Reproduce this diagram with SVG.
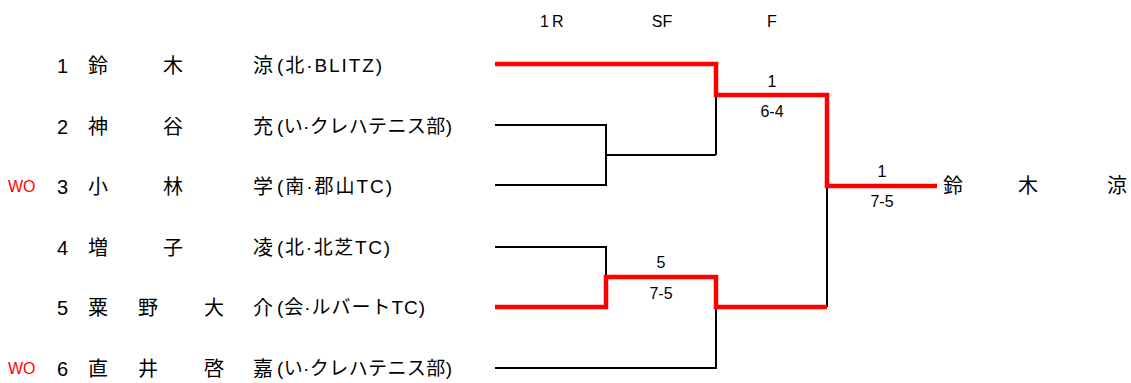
<svg xmlns="http://www.w3.org/2000/svg" width="1131" height="383" viewBox="0 0 1131 383">
<style>
text{font-family:"Liberation Sans","Noto Sans CJK JP",sans-serif;fill:#000}
.nm{font-size:20px}
.num{font-size:20px}
.aff{font-size:19px}
.hd{font-size:16px}
.sc{font-size:16px;text-anchor:middle}
.wo{font-size:16px;fill:#ff0000}
.bk{fill:none;stroke:#000;stroke-width:2}
.rd{fill:none;stroke:#ff0000;stroke-width:4.5}
</style>
<rect width="1131" height="383" fill="#fff"/>
<g id="headers">
<text class="hd" x="540" y="27" letter-spacing="3">1R</text>
<text class="hd" x="662" y="27" text-anchor="middle">SF</text>
<text class="hd" x="772" y="27" text-anchor="middle">F</text>
</g>
<g id="p1">
<text class="num" x="57" y="73">1</text>
<text class="nm" x="88" y="73">鈴</text><text class="nm" x="163" y="73">木</text><text class="nm" x="253" y="73">涼</text>
<text class="aff" x="277" y="72" textLength="105" lengthAdjust="spacing">(北·BLITZ)</text>
</g>
<g id="p2">
<text class="num" x="57" y="134">2</text>
<text class="nm" x="88" y="134">神</text><text class="nm" x="163" y="134">谷</text><text class="nm" x="253" y="134">充</text>
<text class="aff" x="277" y="133" textLength="175" lengthAdjust="spacing">(い·クレハテニス部)</text>
</g>
<g id="p3">
<text class="wo" x="8" y="192">WO</text>
<text class="num" x="57" y="194">3</text>
<text class="nm" x="88" y="194">小</text><text class="nm" x="163" y="194">林</text><text class="nm" x="253" y="194">学</text>
<text class="aff" x="277" y="193" textLength="115" lengthAdjust="spacing">(南·郡山TC)</text>
</g>
<g id="p4">
<text class="num" x="57" y="255">4</text>
<text class="nm" x="88" y="255">増</text><text class="nm" x="163" y="255">子</text><text class="nm" x="253" y="255">凌</text>
<text class="aff" x="277" y="254" textLength="113" lengthAdjust="spacing">(北·北芝TC)</text>
</g>
<g id="p5">
<text class="num" x="57" y="315">5</text>
<text class="nm" x="88" y="315">粟</text><text class="nm" x="138" y="315">野</text><text class="nm" x="204" y="315">大</text><text class="nm" x="253" y="315">介</text>
<text class="aff" x="277" y="314" textLength="148" lengthAdjust="spacing">(会·ルバートTC)</text>
</g>
<g id="p6">
<text class="wo" x="8" y="374">WO</text>
<text class="num" x="57" y="376">6</text>
<text class="nm" x="88" y="376">直</text><text class="nm" x="138" y="376">井</text><text class="nm" x="204" y="376">啓</text><text class="nm" x="253" y="376">嘉</text>
<text class="aff" x="277" y="375" textLength="175" lengthAdjust="spacing">(い·クレハテニス部)</text>
</g>
<g id="connectors">
<polyline class="bk" points="495,125 606,125 606,185 495,185"/>
<line class="bk" x1="606" y1="155" x2="716" y2="155"/>
<line class="bk" x1="716" y1="155" x2="716" y2="95"/>
<polyline class="bk" points="495,247 606,247 606,277"/>
<polyline class="bk" points="716,307 716,368 495,368"/>
<line class="bk" x1="827" y1="307" x2="827" y2="186"/>
<polyline class="rd" points="495,64 716,64 716,95 827,95 827,186 937,186"/>
<polyline class="rd" points="495,307 606,307 606,277 716,277 716,307 827,307"/>
</g>
<g id="scores">
<text class="sc" x="772" y="87">1</text>
<text class="sc" x="772" y="117">6-4</text>
<text class="sc" x="661" y="268">5</text>
<text class="sc" x="661" y="299">7-5</text>
<text class="sc" x="882" y="177">1</text>
<text class="sc" x="882" y="207">7-5</text>
</g>
<g id="winner">
<text class="nm" x="943" y="193">鈴</text><text class="nm" x="1018" y="193">木</text><text class="nm" x="1107" y="193">涼</text>
</g>
</svg>
